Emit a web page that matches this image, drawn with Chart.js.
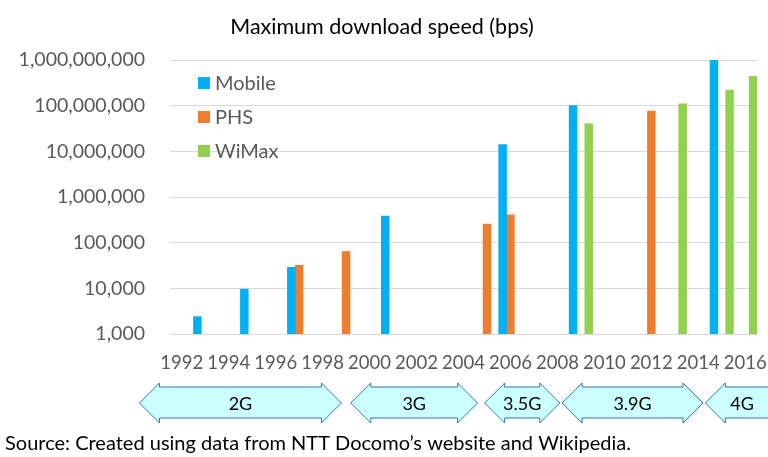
<!DOCTYPE html>
<html>
<head>
<meta charset="utf-8">
<script src="https://cdn.jsdelivr.net/npm/chart.js@4"></script>
<style>
  body { margin: 0; background: #fff; }
  #wrap { width: 768px; height: 457px; position: relative; }
</style>
</head>
<body>
<div id="wrap"><canvas id="myChart"></canvas></div>
<script>
var years = [1992,1993,1994,1995,1996,1997,1998,1999,2000,2001,2002,2003,2004,
             2005,2006,2007,2008,2009,2010,2011,2012,2013,2014,2015,2016];
var mobile = [null,2400,null,9600,null,28800,null,null,null,384000,null,null,null,
              null,14000000,null,null,100000000,null,null,null,null,null,1000000000,null];
var phs = [null,null,null,null,null,32000,null,64000,null,null,null,null,null,
           256000,408000,null,null,null,null,null,76000000,null,null,null,null];
var wimax = [null,null,null,null,null,null,null,null,null,null,null,null,null,
             null,null,null,null,40000000,null,null,null,110000000,null,220000000,440000000];
var yTicks = [1000,10000,100000,1000000,10000000,100000000,1000000000];

// generation bands (in years, along the x axis)
var generations = ['2G','3G','3.5G','3.9G','4G'];
var genFrom = [1990.2, 1999.2, 2004.9, 2008.2, 2014.3];
var genTo   = [1998.8, 2004.6, 2008.1, 2014.2, 2017.9];

var FONT = 'Lato, "Open Sans", sans-serif';

var extras = {
  id: 'extras',
  afterDraw: function(chart) {
    var c = chart.ctx;
    var x = chart.scales.x;
    c.save();
    // title
    c.fillStyle = '#000';
    c.font = '21.5px ' + FONT;
    c.textAlign = 'center';
    c.textBaseline = 'middle';
    c.fillText('Maximum download speed (bps)', 382, 27);

    // legend inside the plot
    c.font = '20px ' + FONT;
    c.textAlign = 'left';
    chart.data.datasets.forEach(function(ds, i) {
      var cy = 83 + i * 34;
      c.fillStyle = ds.backgroundColor;
      c.fillRect(198, cy - 6, 12, 12);
      c.fillStyle = '#595959';
      c.fillText(ds.label, 215, cy + 1);
    });

    // generation arrows
    var top = 383, bTop = 387, bBot = 418, bot = 423, mid = 403, head = 20;
    generations.forEach(function(g, i) {
      var l = x.getPixelForValue(genFrom[i] - years[0]);
      var r = x.getPixelForValue(genTo[i] - years[0]);
      c.beginPath();
      c.moveTo(l, mid);
      c.lineTo(l + head, top);
      c.lineTo(l + head, bTop);
      c.lineTo(r - head, bTop);
      c.lineTo(r - head, top);
      c.lineTo(r, mid);
      c.lineTo(r - head, bot);
      c.lineTo(r - head, bBot);
      c.lineTo(l + head, bBot);
      c.lineTo(l + head, bot);
      c.closePath();
      c.fillStyle = '#CCFFFF';
      c.fill();
      c.strokeStyle = '#2E75B6';
      c.lineWidth = 1;
      c.stroke();
      c.fillStyle = '#000';
      c.font = '18px ' + FONT;
      c.textAlign = 'center';
      var tx = r > 768 ? 742 : (l + r) / 2;
      c.fillText(g, tx, mid + 1);
    });

    // source note
    c.textAlign = 'left';
    c.font = '20px ' + FONT;
    c.fillStyle = '#000';
    c.fillText('Source: Created using data from NTT Docomo\u2019s website and Wikipedia.', 5, 444);
    c.restore();
  }
};

var ctx = document.getElementById('myChart');
new Chart(ctx, {
  type: 'bar',
  data: {
    labels: years,
    datasets: [
      { label: 'Mobile', data: mobile, backgroundColor: '#00B0F0' },
      { label: 'PHS', data: phs, backgroundColor: '#ED7D31' },
      { label: 'WiMax', data: wimax, backgroundColor: '#92D050' }
    ]
  },
  options: {
    responsive: true,
    maintainAspectRatio: false,
    animation: false,
    layout: { padding: { left: 0, right: 11, top: 60, bottom: 86 } },
    datasets: { bar: { barPercentage: 1, categoryPercentage: 1, grouped: true } },
    plugins: {
      legend: { display: false },
      title: { display: false },
      tooltip: { enabled: false }
    },
    scales: {
      x: {
        grid: { display: false, drawTicks: false },
        border: { display: false },
        ticks: {
          autoSkip: false,
          maxRotation: 0,
          padding: 18,
          color: '#595959',
          font: { family: FONT, size: 18.5 },
          callback: function(v, i) { return i % 2 === 0 ? years[i] : ''; }
        },
        afterFit: function(s) { s.height = 37; s.paddingLeft = 0; s.paddingRight = 0; }
      },
      y: {
        type: 'logarithmic',
        min: 1000,
        max: 1000000000,
        grid: { color: '#D9D9D9', drawTicks: false },
        border: { display: false },
        afterBuildTicks: function(s) {
          s.ticks = yTicks.map(function(v) { return { value: v }; });
        },
        afterFit: function(s) { s.width = 170; s.paddingTop = 0; s.paddingBottom = 0; },
        ticks: {
          padding: 25,
          color: '#595959',
          font: { family: FONT, size: 19.5 },
          callback: function(v) { return Number(v).toLocaleString('en-US'); }
        }
      }
    }
  },
  plugins: [extras]
});
</script>
</body>
</html>
